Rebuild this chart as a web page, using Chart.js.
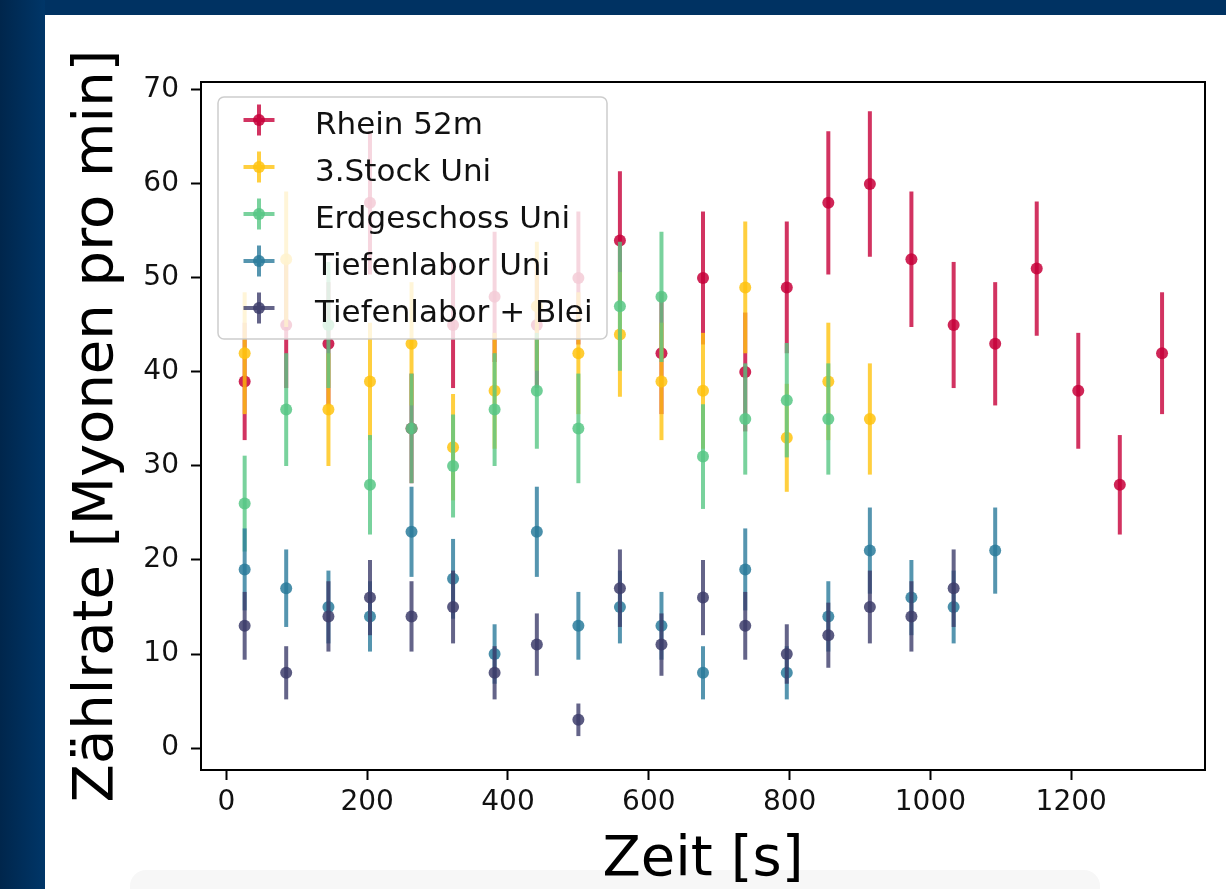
<!DOCTYPE html>
<html><head><meta charset="utf-8">
<script src="https://cdn.jsdelivr.net/npm/chart.js@4.4.1/dist/chart.umd.min.js"></script>
<style>
html,body{margin:0;padding:0;width:1226px;height:889px;overflow:hidden;background:#003262;}
#bg{position:absolute;left:0;top:0;width:45px;height:889px;background:linear-gradient(90deg,#00264c,#003668);}
#panel{position:absolute;left:45px;top:15px;width:1181px;height:874px;background:#fff;}
#shade{position:absolute;left:130px;top:870px;width:970px;height:30px;background:#f7f7f7;border-radius:16px 16px 0 0;}
#wrap{position:absolute;left:45px;top:15px;width:1181px;height:874px;}
</style></head><body>
<div id="bg"></div><div id="panel"></div><div id="shade"></div>
<div id="wrap"><canvas id="c" width="1181" height="874"></canvas></div>
<script>
// time bins [s]
const times = [26, 85, 145, 204, 263, 322, 381, 441, 500, 559, 618, 677, 737, 796, 855, 914, 973, 1033, 1092, 1151, 1210, 1269, 1329];
// count rates [muons per min]
const rhein = [39, 45, 43, 58, 34, 45, 48, 45, 50, 54, 42, 50, 40, 49, 58, 60, 52, 45, 43, 51, 38, 28, 42];
const stock3 = [42, 52, 36, 39, 43, 32, 38, 47, 42, 44, 39, 38, 49, 33, 39, 35];
const erdgeschoss = [26, 36, 45, 28, 34, 30, 36, 38, 34, 47, 48, 31, 35, 37, 35];
const tiefenlabor = [19, 17, 15, 14, 23, 18, 10, 23, 13, 15, 13, 8, 19, 8, 14, 21, 16, 15, 21];
const blei = [13, 8, 14, 16, 14, 15, 8, 11, 3, 17, 11, 16, 13, 10, 12, 15, 14, 17];
const seriesNames = ['Rhein 52m', '3.Stock Uni', 'Erdgeschoss Uni', 'Tiefenlabor Uni', 'Tiefenlabor + Blei'];
const xTicks = [0, 200, 400, 600, 800, 1000, 1200];
const yTicks = [0, 10, 20, 30, 40, 50, 60, 70];

const rgb = ['199,0,57', '255,195,15', '87,199,133', '42,123,155', '61,61,107'];
const seriesValues = [rhein, stock3, erdgeschoss, tiefenlabor, blei];

const datasets = seriesValues.map((vals, i) => ({
  label: seriesNames[i],
  data: vals.map((v, j) => ({x: times[j], y: v})),
  backgroundColor: `rgba(${rgb[i]},0.85)`,
  borderWidth: 0,
  pointRadius: 6,
  pointHoverRadius: 6,
  pointBorderWidth: 0,
  showLine: false,
  order: 5 - i,
  errColor: `rgba(${rgb[i]},0.8)`
}));

// Poisson error bars (sqrt N), drawn just before each dataset's points
const errorBars = {
  id: 'errorBars',
  beforeDatasetDraw(chart, args) {
    const {ctx, scales: {x, y}} = chart;
    const ds = chart.data.datasets[args.index];
    ctx.save();
    ctx.strokeStyle = ds.errColor;
    ctx.lineWidth = 4;
    ds.data.forEach(p => {
      const e = Math.sqrt(p.y);
      const px = x.getPixelForValue(p.x);
      ctx.beginPath();
      ctx.moveTo(px, y.getPixelForValue(p.y - e));
      ctx.lineTo(px, y.getPixelForValue(p.y + e));
      ctx.stroke();
    });
    ctx.restore();
  }
};

const legendBox = {
  id: 'legendBox',
  afterDatasetsDraw(chart) {
    const {ctx, chartArea: a} = chart;
    const left = a.left + 17, top = a.top + 15, w = 389, h = 242;
    ctx.save();
    ctx.beginPath();
    ctx.roundRect(left, top, w, h, 6);
    ctx.fillStyle = 'rgba(255,255,255,0.8)';
    ctx.fill();
    ctx.strokeStyle = 'rgba(200,200,200,0.9)';
    ctx.lineWidth = 1.5;
    ctx.stroke();
    ctx.font = '31px "DejaVu Sans"';
    ctx.textBaseline = 'alphabetic';
    chart.data.datasets.forEach((ds, i) => {
      const cy = top + 23 + i * 47;
      const mx = left + 41;
      ctx.strokeStyle = ds.errColor;
      ctx.lineWidth = 4;
      ctx.beginPath();
      ctx.moveTo(mx - 15.5, cy); ctx.lineTo(mx + 15.5, cy);
      ctx.moveTo(mx, cy - 15.5); ctx.lineTo(mx, cy + 15.5);
      ctx.stroke();
      ctx.fillStyle = ds.backgroundColor;
      ctx.beginPath(); ctx.arc(mx, cy, 6, 0, Math.PI * 2); ctx.fill();
      ctx.fillStyle = '#111';
      ctx.fillText(ds.label, left + 97, cy + 14);
    });
    ctx.restore();
  }
};

const frame = {
  id: 'frame',
  afterDraw(chart) {
    const {ctx, chartArea: a} = chart;
    ctx.save();
    ctx.strokeStyle = '#000';
    ctx.lineWidth = 2;
    ctx.strokeRect(a.left, a.top, a.right - a.left, a.bottom - a.top);
    ctx.restore();
  }
};

const font = '"DejaVu Sans", sans-serif';

new Chart(document.getElementById('c'), {
  type: 'scatter',
  data: {datasets},
  plugins: [errorBars, legendBox, frame],
  options: {
    responsive: false,
    animation: false,
    devicePixelRatio: 1,
    layout: {padding: {top: 67, right: 21, left: 0, bottom: 0}},
    plugins: {legend: {display: false}, tooltip: {enabled: false}},
    scales: {
      x: {
        type: 'linear', min: -36, max: 1390,
        afterBuildTicks: s => { s.ticks = xTicks.map(v => ({value: v})); },
        afterFit: s => { s.height = 119; },
        grid: {display: true, drawOnChartArea: false, drawTicks: true, tickLength: 10, tickWidth: 2, tickColor: '#000'},
        border: {display: false},
        ticks: {font: {family: font, size: 28}, color: '#111', padding: 6, maxRotation: 0, autoSkip: false,
                callback: v => String(v)},
        title: {display: true, text: 'Zeit [s]', color: '#000', font: {family: font, size: 56, lineHeight: 1}, padding: {top: 0, bottom: 1}}
      },
      y: {
        type: 'linear', min: -2.34, max: 70.85,
        afterBuildTicks: s => { s.ticks = yTicks.map(v => ({value: v})); },
        afterFit: s => { s.width = 156; },
        grid: {display: true, drawOnChartArea: false, drawTicks: true, tickLength: 10, tickWidth: 2, tickColor: '#000'},
        border: {display: false},
        ticks: {font: {family: font, size: 28}, color: '#111', padding: 12, callback: v => String(v)},
        title: {display: true, text: 'Zählrate [Myonen pro min]', color: '#000', font: {family: font, size: 56, lineHeight: 1}, padding: {top: 24, bottom: 0}}
      }
    }
  }
});
</script>
</body></html>
